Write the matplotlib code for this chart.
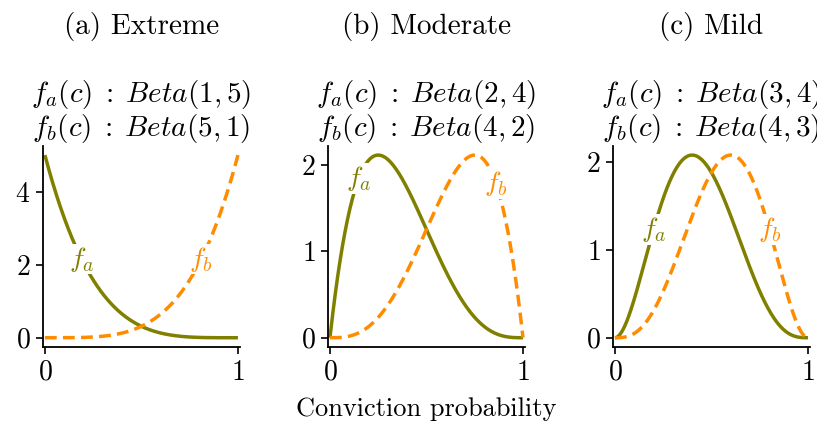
import matplotlib
matplotlib.use("Agg")
import matplotlib.pyplot as plt
import numpy as np
from math import gamma

plt.rcParams['font.family'] = 'serif'
plt.rcParams['font.serif'] = ['cmr10']
plt.rcParams['mathtext.fontset'] = 'cm'
plt.rcParams['axes.formatter.use_mathtext'] = True

# Scenarios and Beta parameters of each conviction-probability density
panel_titles = ["(a) Extreme", "(b) Moderate", "(c) Mild"]
params_a = [(1, 5), (2, 4), (3, 4)]
params_b = [(5, 1), (4, 2), (4, 3)]
yticks = [[0, 2, 4], [0, 1, 2], [0, 1, 2]]
label_x_a = [0.19, 0.15, 0.20]
label_x_b = [0.81, 0.86, 0.80]

col_a = '#808000'
col_b = '#ff8c00'


def beta_pdf(c, a, b):
    return gamma(a + b) / (gamma(a) * gamma(b)) * c ** (a - 1) * (1 - c) ** (b - 1)


c = np.linspace(0, 1, 400)

fig = plt.figure(figsize=(8.17, 4.23), dpi=100)
lefts = [0.0526, 0.4015, 0.7503]
ax_h = 0.475

for i in range(3):
    ax = fig.add_axes([lefts[i], 0.18, 0.241, ax_h])
    ya = beta_pdf(c, *params_a[i])
    yb = beta_pdf(c, *params_b[i])
    ax.plot(c, ya, color=col_a, lw=2.5, solid_capstyle='butt')
    ax.plot(c, yb, color=col_b, lw=2.5, ls=(0, (3.4, 1.8)))
    ax.set_xlim(-0.01, 1.01)
    ax.set_xticks([0, 1])
    ax.set_yticks(yticks[i])
    ax.tick_params(labelsize=20, length=5, width=1.2, pad=4)
    for s in ['top', 'right']:
        ax.spines[s].set_visible(False)
    for s in ['left', 'bottom']:
        ax.spines[s].set_linewidth(1.3)

    # inline labels
    xa = label_x_a[i]
    xb = label_x_b[i]
    ax.text(xa, beta_pdf(xa, *params_a[i]), r'$f_a$', color=col_a, fontsize=20,
            ha='center', va='center', zorder=5,
            bbox=dict(facecolor='white', edgecolor='none', pad=0.6))
    ax.text(xb, beta_pdf(xb, *params_b[i]), r'$f_b$', color=col_b, fontsize=20,
            ha='center', va='center', zorder=5,
            bbox=dict(facecolor='white', edgecolor='none', pad=0.6))

    ax.set_title(r'$f_a(c)\;:\;Beta(%d, %d)$' % params_a[i] + '\n'
                 + r'$f_b(c)\;:\;Beta(%d, %d)$' % params_b[i],
                 fontsize=21, pad=7, linespacing=1.05)
    ax_px = ax_h * 423
    ax.text(0.5, 1.0 + 119 / ax_px, panel_titles[i], transform=ax.transAxes,
            fontsize=21, ha='center', va='center')
    if i == 1:
        ax.set_xlabel('Conviction probability', fontsize=19, labelpad=8)

fig.savefig('out.png', dpi=100)
